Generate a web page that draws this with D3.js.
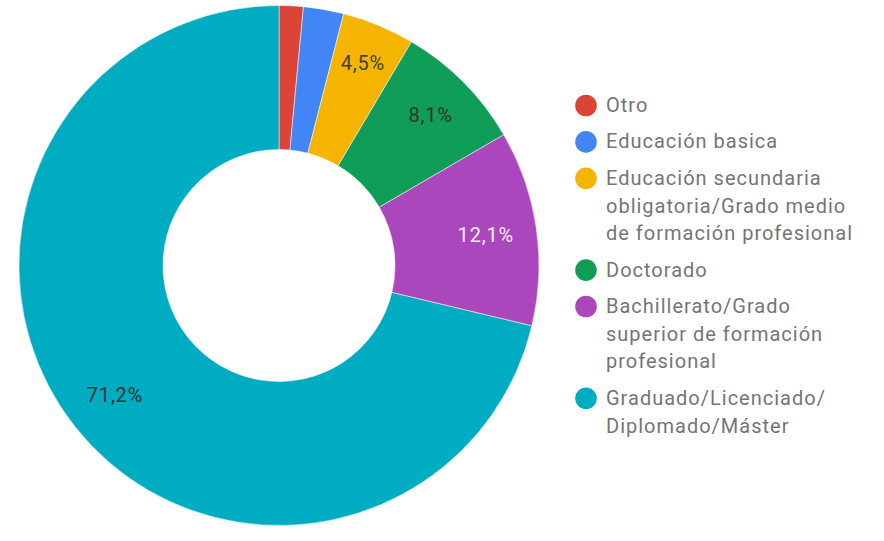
<!DOCTYPE html>
<html>
<head>
<meta charset="utf-8">
<script src="https://cdn.jsdelivr.net/npm/d3@7"></script>
<style>
  body { margin: 0; background: #fff; }
  text { font-family: Roboto, "Noto Sans", sans-serif; }
</style>
</head>
<body>
<svg id="chart" width="884" height="541"></svg>
<script>
// datos
var categories = ["Otro", "Educación basica", "Educación secundaria obligatoria/Grado medio de formación profesional", "Doctorado", "Bachillerato/Grado superior de formación profesional", "Graduado/Licenciado/Diplomado/Máster"];
var values = [1.5, 2.5, 4.5, 8.1, 12.1, 71.2];
var colors = ["#db4437", "#4285f4", "#f4b400", "#0f9d58", "#ab47bc", "#00acc1"];
// lineas de la leyenda
var legendLines = [
  ["Otro"],
  ["Educación basica"],
  ["Educación secundaria", "obligatoria/Grado medio", "de formación profesional"],
  ["Doctorado"],
  ["Bachillerato/Grado", "superior de formación", "profesional"],
  ["Graduado/Licenciado/", "Diplomado/Máster"]
];
var labelColors = ["#424242", "#424242", "#424242", "#333", "#f2f2f2", "#333"];

var svg = d3.select("#chart");
var cx = 279, cy = 265.5, rOut = 260, rIn = 116;

var data = categories.map(function(c, i) { return { name: c, value: values[i], i: i }; });

var pie = d3.pie().sort(null).value(d => d.value);
var arc = d3.arc().innerRadius(rIn).outerRadius(rOut);

var g = svg.append("g").attr("transform", "translate(" + cx + "," + cy + ")");

var arcs = pie(data);

g.selectAll("path")
  .data(arcs)
  .enter()
  .append("path")
  .attr("d", arc)
  .attr("fill", d => colors[d.data.i])
  .attr("stroke", "#fff")
  .attr("stroke-width", 0.5);

// radio de la etiqueta: las porciones estrechas la empujan hacia fuera
function labelPos(d) {
  var span = d.endAngle - d.startAngle;
  var r = span < 0.35 ? 219 : (span < 0.6 ? 213.5 : 209);
  return d3.arc().innerRadius(r).outerRadius(r).centroid(d);
}

// etiquetas de porcentaje (solo las grandes)
var total = d3.sum(values);
g.selectAll("text.pct")
  .data(arcs.filter(d => d.data.value / total >= 0.04))
  .enter()
  .append("text")
  .attr("class", "pct")
  .attr("transform", d => "translate(" + labelPos(d) + ")")
  .attr("text-anchor", "middle")
  .attr("dy", "0.35em")
  .style("font-size", "20px")
  .style("letter-spacing", "0.8px")
  .style("fill", d => labelColors[d.data.i])
  .text(d => d3.format(".1f")(d.data.value).replace(".", ",") + "%");

// leyenda
var legend = svg.append("g");
var y = 112;
legendLines.forEach(function(lines, i) {
  legend.append("circle")
    .attr("cx", 586)
    .attr("cy", y - 6.5)
    .attr("r", 10.8)
    .attr("fill", colors[i]);
  var t = legend.append("text")
    .attr("x", 606)
    .attr("y", y)
    .style("font-size", "20px")
    .style("letter-spacing", "1px")
    .style("fill", "#757575");
  lines.forEach(function(l, j) {
    t.append("tspan").attr("x", 606).attr("y", y + j * 27.7).text(l);
  });
  y += (lines.length - 1) * 27.7 + 36.4;
});
</script>
</body>
</html>
